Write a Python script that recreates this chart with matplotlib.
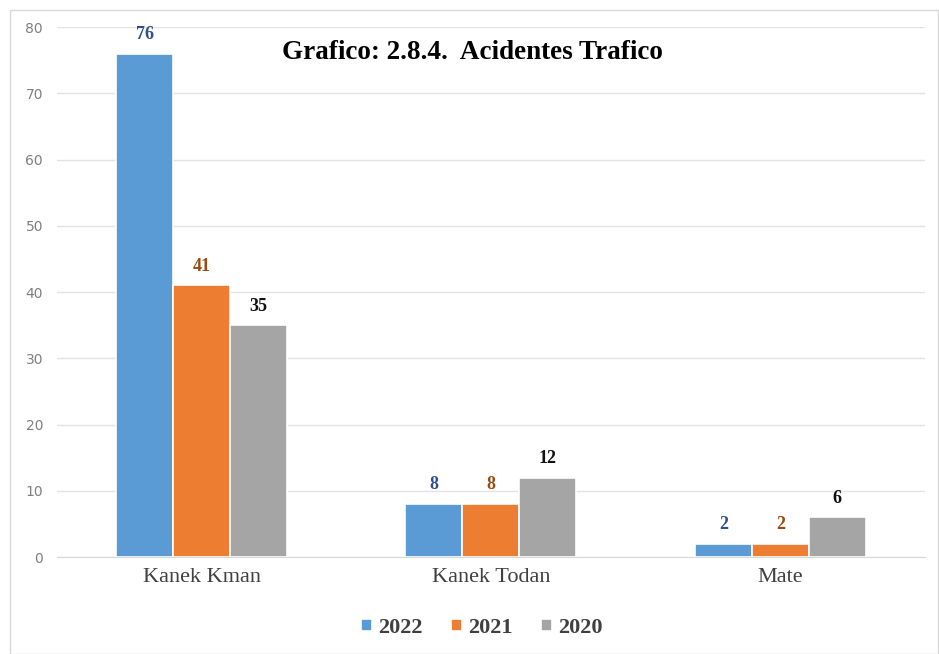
import matplotlib
matplotlib.use("Agg")
import matplotlib.pyplot as plt
from matplotlib.patches import Rectangle
import numpy as np

categories = ["Kanek Kman", "Kanek Todan", "Mate"]
series_names = ["2022", "2021", "2020"]
v2022 = [76, 8, 2]
v2021 = [41, 8, 2]
v2020 = [35, 12, 6]
yticks = [0, 10, 20, 30, 40, 50, 60, 70, 80]

bar_colors = ["#5B9BD5", "#ED7D31", "#A5A5A5"]
label_colors = ["#2F4F8F", "#9C4A10", "#111111"]

fig = plt.figure(figsize=(9.39, 6.54), dpi=100)
ax = fig.add_axes([0.0607, 0.1483, 0.9243, 0.8104])

x = np.arange(len(categories))
w = 0.197
series = [v2022, v2021, v2020]
for i, (vals, name) in enumerate(zip(series, series_names)):
    xs = x + (i - 1) * w
    ax.bar(xs, vals, width=w, color=bar_colors[i], edgecolor="white",
           linewidth=1.2, label=name, zorder=3)
    for xi, v in zip(xs, vals):
        ax.text(xi, v + 1.6, str(v), ha="center", va="bottom",
                fontsize=13, fontweight="bold", family="Liberation Serif",
                color=label_colors[i], zorder=4)

ax.set_xlim(-0.5, 2.5)
ax.set_ylim(0, 80)
ax.set_yticks(yticks)
ax.set_yticklabels([str(t) for t in yticks], fontsize=10, color="#7F7F7F",
                   family="DejaVu Sans")
ax.set_xticks(x)
ax.set_xticklabels(categories, fontsize=16, color="#404040", family="Liberation Serif")
ax.tick_params(axis="both", length=0)
ax.tick_params(axis="y", pad=10)
ax.tick_params(axis="x", pad=8)
ax.grid(axis="y", color="#E3E3E3", linewidth=1, zorder=0)
for s in ["top", "right", "left"]:
    ax.spines[s].set_visible(False)
ax.spines["bottom"].set_color("#D9D9D9")

ax.text(0.479, 0.951, "Grafico: 2.8.4.  Acidentes Trafico", transform=ax.transAxes,
        ha="center", va="center", fontsize=19.5, fontweight="bold",
        family="Liberation Serif", color="black")

leg = fig.legend(loc="center", bbox_to_anchor=(0.513, 0.04), ncol=3, frameon=False,
                 prop={"family": "Liberation Serif", "weight": "bold", "size": 16},
                 handlelength=0.5, handleheight=0.5, handletextpad=0.25,
                 columnspacing=1.3)
for t in leg.get_texts():
    t.set_color("#404040")

fig.patches.append(Rectangle((10 / 939, 0), 1 - 11 / 939, 1 - 10 / 654,
                             transform=fig.transFigure, fill=False,
                             edgecolor="#D9D9D9", linewidth=1))

fig.savefig("out.png", dpi=100)
